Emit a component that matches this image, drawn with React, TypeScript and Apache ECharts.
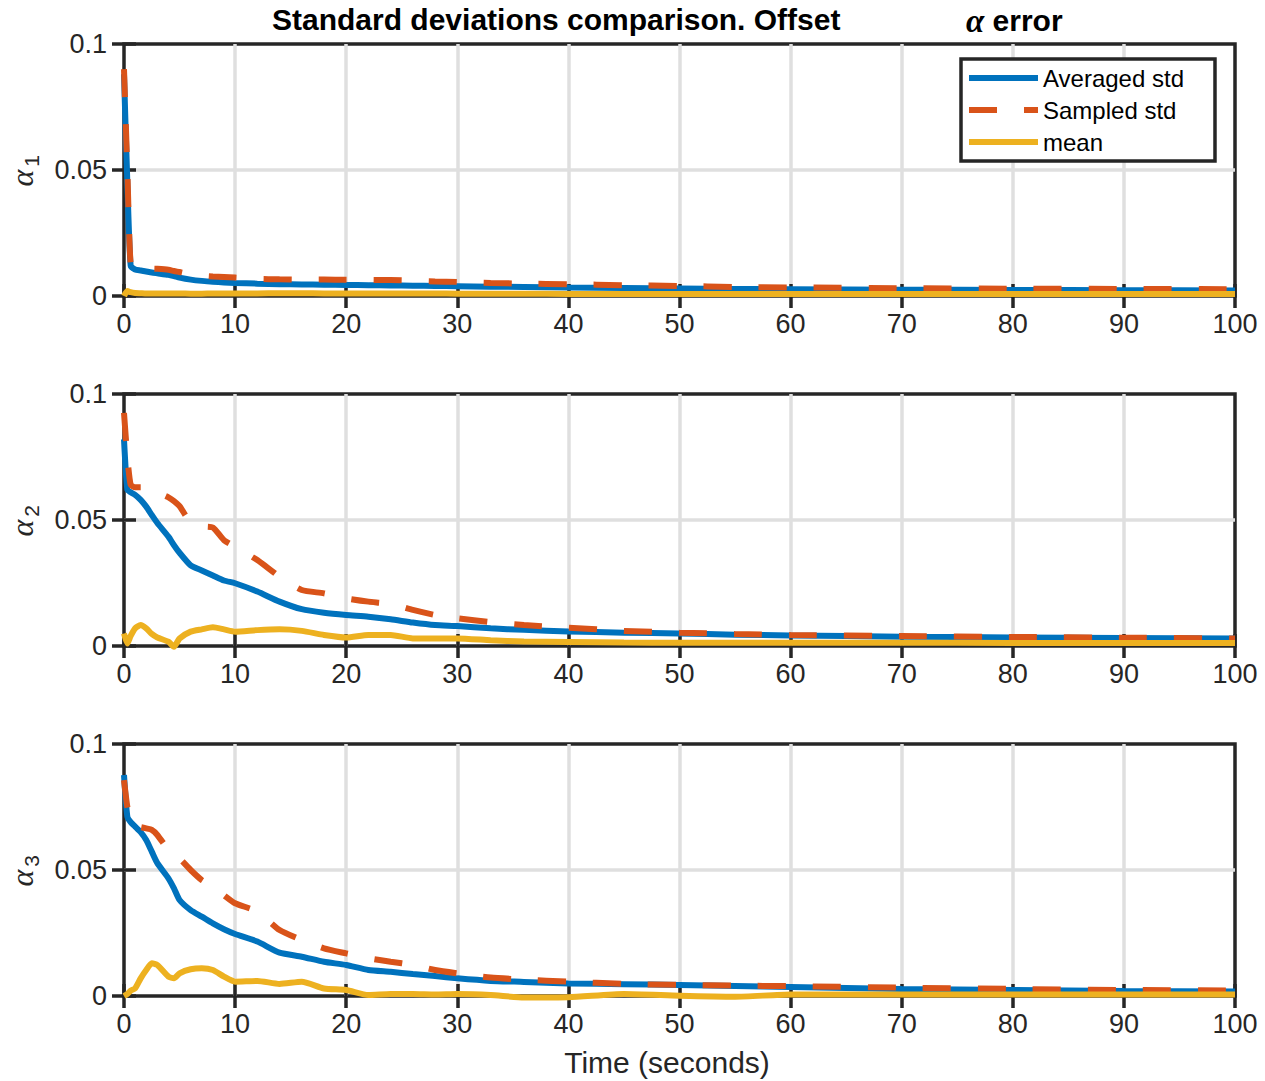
import React, { useEffect, useRef } from "react";
import * as echarts from "echarts";

// Time samples (seconds)
const T = [0, 0.3, 0.6, 1, 1.5, 2, 2.5, 3, 4, 4.5, 5, 6, 7, 8, 9, 10, 12, 14, 16, 18, 20, 22, 24, 26, 28, 30, 33, 36, 40, 45, 50, 55, 60, 70, 80, 90, 100];

// alpha_1
const avg1 = [0.088, 0.045, 0.012, 0.0105, 0.0101, 0.0097, 0.0093, 0.009, 0.0084, 0.0079, 0.0073, 0.0065, 0.006, 0.0057, 0.0054, 0.0052, 0.0049, 0.0047, 0.0046, 0.0045, 0.0044, 0.0043, 0.0042, 0.0041, 0.004, 0.0039, 0.0037, 0.0036, 0.0034, 0.0032, 0.003, 0.0028, 0.0027, 0.0025, 0.0024, 0.0023, 0.0022];
const samp1 = [0.09, 0.05, 0.0125, 0.0115, 0.0112, 0.011, 0.0109, 0.0108, 0.0104, 0.0099, 0.0095, 0.0086, 0.008, 0.0077, 0.0075, 0.0073, 0.0068, 0.0066, 0.0065, 0.0065, 0.0064, 0.0064, 0.0063, 0.0061, 0.0058, 0.0056, 0.0052, 0.0049, 0.0047, 0.0043, 0.004, 0.0036, 0.0034, 0.0031, 0.0029, 0.0028, 0.0027];
const mean1 = [0, 0.002, 0.0015, 0.0012, 0.0011, 0.001, 0.001, 0.001, 0.001, 0.001, 0.001, 0.0009, 0.0009, 0.001, 0.001, 0.001, 0.001, 0.0011, 0.0011, 0.001, 0.001, 0.001, 0.001, 0.001, 0.001, 0.0009, 0.0009, 0.0009, 0.0008, 0.0008, 0.0008, 0.0008, 0.0008, 0.0008, 0.0008, 0.0008, 0.0008];

// alpha_2
const avg2 = [0.082, 0.062, 0.061, 0.06, 0.058, 0.0553, 0.052, 0.0488, 0.0434, 0.04, 0.037, 0.032, 0.03, 0.028, 0.026, 0.0249, 0.0216, 0.0176, 0.0146, 0.0132, 0.0123, 0.0116, 0.0106, 0.0093, 0.0083, 0.0079, 0.007, 0.0064, 0.0058, 0.0053, 0.005, 0.0045, 0.0042, 0.0037, 0.0034, 0.0032, 0.003];
const samp2 = [0.0925, 0.075, 0.064, 0.063, 0.063, 0.063, 0.0625, 0.061, 0.059, 0.0575, 0.0555, 0.049, 0.0475, 0.047, 0.042, 0.0394, 0.0341, 0.0275, 0.0222, 0.0209, 0.0189, 0.0176, 0.0167, 0.0143, 0.0123, 0.011, 0.0095, 0.0083, 0.0073, 0.006, 0.0053, 0.0048, 0.0044, 0.004, 0.0036, 0.0033, 0.003];
const mean2 = [0.005, 0.001, 0.004, 0.007, 0.0083, 0.007, 0.0048, 0.0034, 0.0017, -0.0003, 0.003, 0.0057, 0.0066, 0.0074, 0.0066, 0.0057, 0.0063, 0.0066, 0.006, 0.0044, 0.0034, 0.0044, 0.0044, 0.003, 0.003, 0.003, 0.0023, 0.0018, 0.0016, 0.0014, 0.0013, 0.0013, 0.0013, 0.0013, 0.0012, 0.0012, 0.0012];

// alpha_3
const avg3 = [0.0877, 0.0712, 0.069, 0.0672, 0.065, 0.0619, 0.0573, 0.0527, 0.0467, 0.0427, 0.0381, 0.0341, 0.0315, 0.0288, 0.0265, 0.0246, 0.0216, 0.0172, 0.0156, 0.0136, 0.0123, 0.0103, 0.0096, 0.0087, 0.0079, 0.007, 0.006, 0.0056, 0.005, 0.0047, 0.0044, 0.004, 0.0036, 0.0028, 0.0024, 0.002, 0.0018];
const samp3 = [0.0857, 0.0751, 0.07, 0.0672, 0.067, 0.0665, 0.0659, 0.0639, 0.0579, 0.056, 0.0546, 0.05, 0.046, 0.0434, 0.04, 0.0368, 0.0335, 0.0262, 0.0222, 0.0189, 0.0169, 0.015, 0.0136, 0.0123, 0.0103, 0.009, 0.0073, 0.0065, 0.0057, 0.0048, 0.0044, 0.0041, 0.0039, 0.0033, 0.0028, 0.0024, 0.0022];
const mean3 = [0, 0.0008, 0.0021, 0.003, 0.007, 0.0103, 0.013, 0.0123, 0.0077, 0.007, 0.009, 0.0106, 0.011, 0.0103, 0.0077, 0.0057, 0.006, 0.0048, 0.0057, 0.003, 0.0024, 0.0004, 0.0008, 0.0008, 0.0006, 0.0008, 0.0004, -0.0006, -0.0005, 0.0008, 0.0001, -0.0003, 0.0006, 0.0006, 0.0006, 0.0006, 0.0006];

const seriesNames = ["Averaged std", "Sampled std", "mean"];
const panelLabels = ["1", "2", "3"];
const panels = [
  [avg1, samp1, mean1],
  [avg2, samp2, mean2],
  [avg3, samp3, mean3],
];
const xTickInterval = 10;
const yTickInterval = 0.05;

const FONT = "Liberation Sans, Arial, Helvetica, sans-serif";
const AX = "#262626";
const GRIDC = "#dfdfdf";
const COLORS = ["#0072BD", "#D95319", "#EDB120"];

const GL = 124, GW = 1111, GT = 44, GH = 252, GSTEP = 350;
const LW = 6;

export default function App() {
  const ref = useRef<HTMLDivElement>(null);
  useEffect(() => {
    const chart = echarts.init(ref.current!, null, { renderer: "svg" });
    const grids: any[] = [];
    const xAxes: any[] = [];
    const yAxes: any[] = [];
    const series: any[] = [];
    const graphics: any[] = [];
    const tick = { show: true, inside: true, length: 12, lineStyle: { color: AX, width: 3.5 } };
    panels.forEach((vals, i) => {
      grids.push({ left: GL, width: GW, top: GT + GSTEP * i, height: GH, show: true, borderColor: AX, borderWidth: 3.5, backgroundColor: "transparent" });
      const xBase = { gridIndex: i, type: "value", min: 0, max: 100, interval: xTickInterval };
      const yBase = { gridIndex: i, type: "value", min: 0, max: 0.1, interval: yTickInterval };
      xAxes.push({
        ...xBase, position: "bottom", z: 1,
        axisLine: { show: false }, axisTick: tick,
        axisLabel: { fontSize: 27, color: AX, margin: 14, fontFamily: FONT },
        splitLine: { show: false },
      });
      xAxes.push({
        ...xBase, position: "bottom", z: 0,
        axisLine: { show: false }, axisTick: { show: false }, axisLabel: { show: false },
        splitLine: { show: true, showMinLine: false, showMaxLine: false, lineStyle: { color: GRIDC, width: 3.5 } },
      });
      xAxes.push({
        ...xBase, position: "top", z: 1,
        axisLine: { show: false }, axisTick: tick, axisLabel: { show: false }, splitLine: { show: false },
      });
      yAxes.push({
        ...yBase, position: "left", z: 1,
        axisLine: { show: false }, axisTick: tick,
        axisLabel: { fontSize: 27, color: AX, margin: 17, fontFamily: FONT },
        splitLine: { show: false },
      });
      yAxes.push({
        ...yBase, position: "left", z: 0,
        axisLine: { show: false }, axisTick: { show: false }, axisLabel: { show: false },
        splitLine: { show: true, showMinLine: false, showMaxLine: false, lineStyle: { color: GRIDC, width: 3.5 } },
      });
      yAxes.push({
        ...yBase, position: "right", z: 1,
        axisLine: { show: false }, axisTick: tick, axisLabel: { show: false }, splitLine: { show: false },
      });
      vals.forEach((v, k) => {
        series.push({
          name: seriesNames[k],
          type: "line",
          xAxisIndex: 3 * i,
          yAxisIndex: 3 * i,
          data: T.map((t, j) => [t, v[j]]),
          showSymbol: false,
          symbol: "none",
          clip: false,
          smooth: 0.2,
          z: 2 + k,
          lineStyle: { color: COLORS[k], width: LW, type: k === 1 ? [28, 27] : "solid", cap: "butt" },
          itemStyle: { color: COLORS[k] },
        });
      });
      const cy = GT + GSTEP * i + GH / 2;
      graphics.push({
        type: "text", x: 22, y: cy + 8, rotation: Math.PI / 2,
        style: { text: "α", font: "italic 32px 'Liberation Serif', serif", fill: AX, align: "center", verticalAlign: "middle" },
      });
      graphics.push({
        type: "text", x: 31, y: cy - 9, rotation: Math.PI / 2,
        style: { text: panelLabels[i], font: "21px 'Liberation Sans', Arial, sans-serif", fill: AX, align: "center", verticalAlign: "middle" },
      });
    });
    graphics.push({
      type: "text", x: 667, y: 1062,
      style: { text: "Time (seconds)", font: "30px 'Liberation Sans', Arial, sans-serif", fill: AX, align: "center", verticalAlign: "middle" },
    });

    chart.setOption({
      animation: false,
      backgroundColor: "#ffffff",
      title: [
        { text: "Standard deviations comparison. Offset", left: 272, top: 4, padding: 0, textStyle: { fontSize: 30, fontWeight: "bold", color: "#000", fontFamily: FONT } },
        {
          text: "{a|α} error", left: 966, top: 4, padding: 0,
          textStyle: {
            fontSize: 30, fontWeight: "bold", color: "#000", fontFamily: FONT,
            rich: { a: { fontFamily: "Liberation Serif, serif", fontStyle: "italic", fontWeight: "bold", fontSize: 33, color: "#000" } },
          },
        },
      ],
      legend: {
        data: seriesNames,
        orient: "vertical",
        left: 961, top: 59,
        itemWidth: 69, itemHeight: 24, itemGap: 8,
        padding: [7, 31, 7, 5],
        borderColor: AX, borderWidth: 3.5,
        backgroundColor: "#ffffff",
        itemStyle: { opacity: 0 },
        lineStyle: { width: LW },
        textStyle: { fontSize: 24, color: "#000", fontFamily: FONT },
        selectedMode: false,
        z: 10,
      },
      grid: grids,
      xAxis: xAxes,
      yAxis: yAxes,
      series,
      graphic: graphics,
    });
    return () => chart.dispose();
  }, []);
  return <div ref={ref} style={{ position: "absolute", left: 0, top: 0, width: 1265, height: 1081 }} />;
}
